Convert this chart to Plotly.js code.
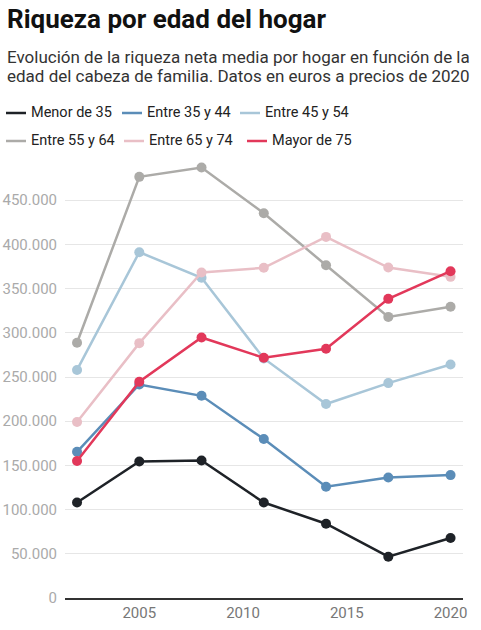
<!DOCTYPE html>
<html><head><meta charset="utf-8">
<script src="https://cdn.plot.ly/plotly-3.0.1.min.js"></script>
<style>html,body{margin:0;padding:0;background:#fff}#chart{width:481px;height:630px}</style>
</head><body><div id="chart"></div>
<script>
// ---- data ----
const years = [2002, 2005, 2008, 2011, 2014, 2017, 2020];
const seriesNames = ['Menor de 35', 'Entre 35 y 44', 'Entre 45 y 54', 'Entre 55 y 64', 'Entre 65 y 74', 'Mayor de 75'];
const menor35   = [108000, 154500, 155600, 108000, 84000, 46700, 67800];
const entre3544 = [165400, 241500, 228700, 179800, 125800, 136400, 139000];
const entre4554 = [258000, 391200, 362200, 271000, 219400, 243100, 264200];
const entre5564 = [288700, 476400, 486900, 435300, 376500, 318000, 329400];
const entre6574 = [199000, 288300, 368200, 373500, 408500, 373800, 363300];
const mayor75   = [154900, 244600, 294700, 271700, 281900, 338400, 369700];
const yTickVals = [0, 50000, 100000, 150000, 200000, 250000, 300000, 350000, 400000, 450000];
const xTickVals = [2005, 2010, 2015, 2020];
const titleText = 'Riqueza por edad del hogar';
const subtitleLines = ['Evolución de la riqueza neta media por hogar en función de la', 'edad del cabeza de familia. Datos en euros a precios de 2020'];

// ---- styling ----
const colors = ['#1e2227', '#5b8db8', '#a8c6d8', '#acaba8', '#e9bfc6', '#e2385a'];
const allSeries = [menor35, entre3544, entre4554, entre5564, entre6574, mayor75];

const W = 481, H = 630;
const M = {l: 65, r: 18, t: 156, b: 32};
const PW = W - M.l - M.r, PH = H - M.t - M.b;
const px = x => (x - M.l) / PW;
const py = y => (H - M.b - y) / PH;
const FONT = 'Roboto, "Noto Sans", sans-serif';

const traces = allSeries.map((vals, i) => ({
  x: years, y: vals, name: seriesNames[i], type: 'scatter', mode: 'lines+markers',
  line: {color: colors[i], width: 2.5}, marker: {color: colors[i], size: 10},
  showlegend: false, cliponaxis: false
}));

const annotations = [];
const shapes = [];
annotations.push({xref: 'paper', yref: 'paper', x: px(5), y: py(19), xanchor: 'left', yanchor: 'middle',
  text: '<b>' + titleText + '</b>', showarrow: false, font: {family: FONT, size: 26, color: '#111'}});
const subY = [57, 76];
subtitleLines.forEach((t, k) => annotations.push({xref: 'paper', yref: 'paper', x: px(5), y: py(subY[k]),
  xanchor: 'left', yanchor: 'middle', text: t, showarrow: false, font: {family: FONT, size: 17, color: '#333'}}));

// custom legend
const legRowY = [113, 141];
const legColX = [[6, 122, 240], [6, 124, 247]];
seriesNames.forEach((n, i) => {
  const r = Math.floor(i / 3), c = i % 3;
  const x0 = legColX[r][c];
  shapes.push({type: 'line', xref: 'paper', yref: 'paper', x0: px(x0), x1: px(x0 + 20), y0: py(legRowY[r]), y1: py(legRowY[r]),
    line: {color: colors[i], width: 2.5}});
  annotations.push({xref: 'paper', yref: 'paper', x: px(x0 + 23), y: py(legRowY[r]), xanchor: 'left', yanchor: 'middle',
    text: n, showarrow: false, font: {family: FONT, size: 14.5, color: '#222'}});
});

const layout = {
  width: W, height: H, margin: M, paper_bgcolor: '#fff', plot_bgcolor: '#fff',
  separators: ',.', showlegend: false, hovermode: false,
  font: {family: FONT},
  xaxis: {range: [2001.42, 2020.6], tickvals: xTickVals, showgrid: false, zeroline: false,
    showline: true, linecolor: '#333', linewidth: 1.5, ticks: '', tickfont: {size: 15, color: '#777', family: FONT}},
  yaxis: {range: [0, 500000], tickvals: yTickVals, tickformat: ',d', showgrid: true, gridcolor: '#e6e6e6', gridwidth: 1,
    zeroline: false, showline: false, ticks: '', ticklabelstandoff: 7, tickfont: {size: 15, color: '#aaa', family: FONT}},
  annotations, shapes
};
Plotly.newPlot('chart', traces, layout, {staticPlot: true, displayModeBar: false});
</script></body></html>
